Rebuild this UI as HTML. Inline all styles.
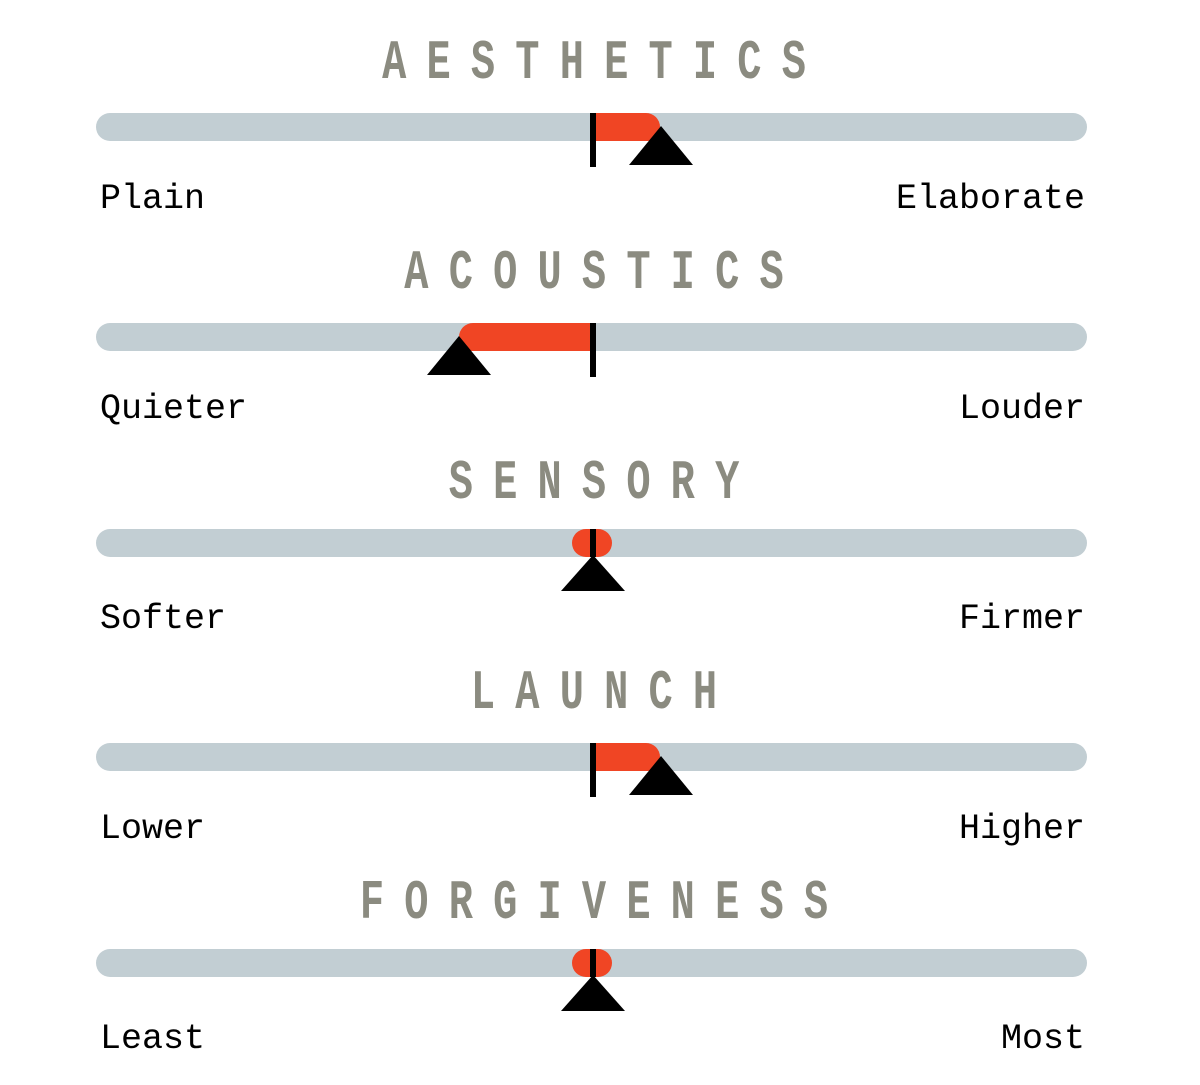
<!DOCTYPE html>
<html><head><meta charset="utf-8"><style>
html,body{margin:0;padding:0;background:#fff;}
svg{display:block;}
.t{font-family:"Liberation Mono",monospace;font-weight:bold;font-size:56px;fill:#8b8b80;}
.l{font-family:"Liberation Mono",monospace;font-size:35px;fill:#000;}
</style></head><body>
<svg width="1200" height="1085" viewBox="0 0 1200 1085" xmlns="http://www.w3.org/2000/svg">
<g transform="scale(0.72,1)">
<text class="t" text-anchor="middle" y="78" x="547.5 609.2 670.8 732.5 794.2 855.8 917.5 979.2 1040.8 1102.5">AESTHETICS</text>
<text class="t" text-anchor="middle" y="288" x="578.3 640 701.7 763.3 825 886.7 948.3 1010 1071.7">ACOUSTICS</text>
<text class="t" text-anchor="middle" y="498" x="640 701.7 763.3 825 886.7 948.3 1010">SENSORY</text>
<text class="t" text-anchor="middle" y="708" x="670.8 732.5 794.2 855.8 917.5 979.2">LAUNCH</text>
<text class="t" text-anchor="middle" y="918" x="516.7 578.3 640 701.7 763.3 825 886.7 948.3 1010 1071.7 1133.3">FORGIVENESS</text>
</g>

<rect x="96" y="113" width="991" height="28" rx="14" fill="#c2ced3"/>
<path d="M593 113 H646 A14 14 0 0 1 660 127 V141 H593 Z" fill="#f04524"/>
<rect x="590" y="113" width="6" height="54" fill="#000"/>
<polygon points="661,126 693,165 629,165" fill="#000"/>
<text class="l" x="100" y="208">Plain</text>
<text class="l" x="1085" y="208" text-anchor="end">Elaborate</text>

<rect x="96" y="323" width="991" height="28" rx="14" fill="#c2ced3"/>
<path d="M593 323 H473 A14 14 0 0 0 459 337 V351 H593 Z" fill="#f04524"/>
<rect x="590" y="323" width="6" height="54" fill="#000"/>
<polygon points="459,336 491,375 427,375" fill="#000"/>
<text class="l" x="100" y="418">Quieter</text>
<text class="l" x="1085" y="418" text-anchor="end">Louder</text>

<rect x="96" y="529" width="991" height="28" rx="14" fill="#c2ced3"/>
<rect x="572" y="529" width="40" height="28" rx="14" fill="#f04524"/>
<rect x="590" y="529" width="6" height="28" fill="#000"/>
<polygon points="593,555 625,591 561,591" fill="#000"/>
<text class="l" x="100" y="628">Softer</text>
<text class="l" x="1085" y="628" text-anchor="end">Firmer</text>

<rect x="96" y="743" width="991" height="28" rx="14" fill="#c2ced3"/>
<path d="M593 743 H646 A14 14 0 0 1 660 757 V771 H593 Z" fill="#f04524"/>
<rect x="590" y="743" width="6" height="54" fill="#000"/>
<polygon points="661,756 693,795 629,795" fill="#000"/>
<text class="l" x="100" y="838">Lower</text>
<text class="l" x="1085" y="838" text-anchor="end">Higher</text>

<rect x="96" y="949" width="991" height="28" rx="14" fill="#c2ced3"/>
<rect x="572" y="949" width="40" height="28" rx="14" fill="#f04524"/>
<rect x="590" y="949" width="6" height="28" fill="#000"/>
<polygon points="593,975 625,1011 561,1011" fill="#000"/>
<text class="l" x="100" y="1048">Least</text>
<text class="l" x="1085" y="1048" text-anchor="end">Most</text>
</svg>
</body></html>
